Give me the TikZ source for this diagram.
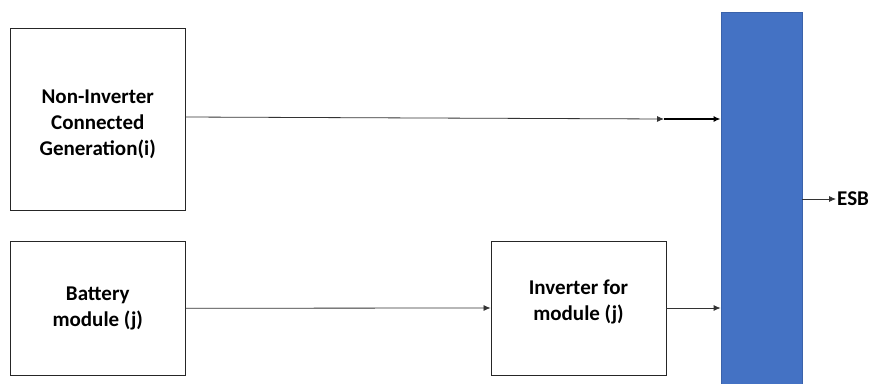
\documentclass[tikz,border=0pt]{standalone}
\usepackage{fontspec}
\setmainfont{Carlito}
\usetikzlibrary{arrows.meta}
\definecolor{busblue}{HTML}{4472C4}
\definecolor{busedge}{HTML}{3A62AA}
\newcommand{\boxtext}[2]{\raisebox{#1}[0pt][0pt]{\begin{tabular}{@{}c@{}}#2\end{tabular}}}
\begin{document}
\begin{tikzpicture}[x=1pt,y=-1pt,
  box/.style={draw=black!85, line width=0.9pt, fill=white, align=center,
    font=\fontsize{21}{26}\selectfont\bfseries, inner sep=0pt},
  conn/.style={line width=0.8pt, draw=black!80, -{Latex[length=7pt,width=6pt]}},
  thickconn/.style={line width=1.4pt, draw=black, -{Latex[length=7pt,width=6pt]}}]
\clip (0,0) rectangle (883,383);
\fill[white] (0,0) rectangle (883,383);
\node[box, minimum width=174.5pt, minimum height=182pt] (ncg) at (97.75,119)
  {\boxtext{-10pt}{Non-Inverter\\Connected\\Generation(i)}};
\node[box, minimum width=174.5pt, minimum height=133.5pt] (bat) at (97.75,308.25)
  {\boxtext{-5pt}{Battery\\module (j)}};
\node[box, minimum width=175pt, minimum height=134pt] (inv) at (578.5,308)
  {\boxtext{1pt}{Inverter for\\module (j)}};
\node[draw=busedge, line width=0.8pt, fill=busblue, minimum width=81pt,
  minimum height=380pt, inner sep=0pt] (bus) at (761.5,202) {};
\node[font=\fontsize{21}{26}\selectfont\bfseries, anchor=west, inner sep=1pt] (esb) at (836,199) {ESB};
\coordinate (mid) at (664,119);
\draw[conn] ([yshift=2pt]ncg.east) -- (mid);
\draw[thickconn] (mid) -- (bus.west |- mid);
\draw[conn] (bat.east) -- (inv.west);
\draw[conn] (inv.east) -- (bus.west |- inv.east);
\draw[conn] (bus.east |- esb.west) -- (esb.west);
\end{tikzpicture}
\end{document}
